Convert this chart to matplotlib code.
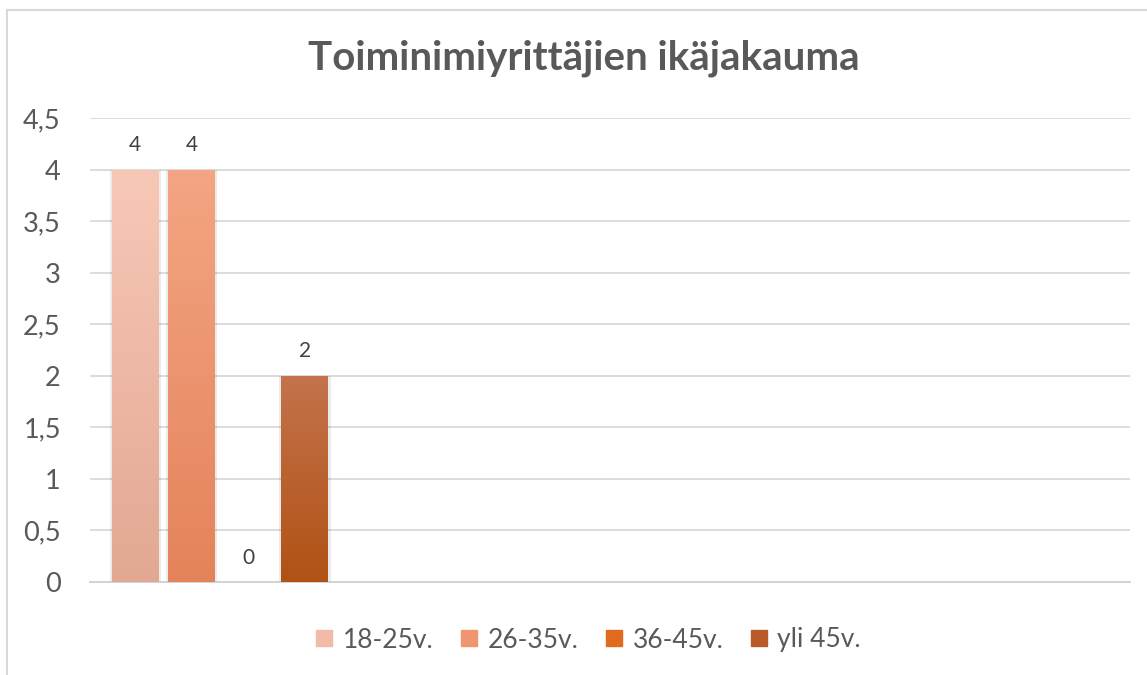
import matplotlib.pyplot as plt
import numpy as np
from matplotlib.colors import LinearSegmentedColormap
from matplotlib.lines import Line2D
from matplotlib.patches import Rectangle

plt.rcParams["font.family"] = ["Lato", "DejaVu Sans"]

title = "Toiminimiyrittäjien ikäjakauma"
series = ["18-25v.", "26-35v.", "36-45v.", "yli 45v."]
values = [4, 4, 0, 2]
yticks = [0, 0.5, 1, 1.5, 2, 2.5, 3, 3.5, 4, 4.5]
ytick_labels = ["0", "0,5", "1", "1,5", "2", "2,5", "3", "3,5", "4", "4,5"]

# top colour, bottom colour for each series gradient
grads = [
    ("#f8c8b7", "#e2a893"),
    ("#f4a583", "#e4835a"),
    ("#ec8a4a", "#d8621c"),
    ("#c4734c", "#b05214"),
]
legend_colors = ["#f1bba7", "#ef9670", "#e06a20", "#b85b28"]

W, H = 1147, 675
fig = plt.figure(figsize=(W / 100, H / 100), dpi=100)
ax = fig.add_axes([90 / W, (H - 582) / H, (1130 - 90) / W, (582 - 118) / H])

bar_w = 0.83
xs = np.arange(len(values))
ax.set_xlim(-0.8, 17.6)
ax.set_ylim(0, 4.5)

grad = np.linspace(0, 1, 256).reshape(-1, 1)
for x, v, (top, bot) in zip(xs, values, grads):
    if v == 0:
        ax.text(x, 0.14, "0", ha="center", va="bottom", fontsize=15, color="#404040")
        continue
    # soft shadow
    ax.add_patch(Rectangle((x - bar_w / 2 - 0.04, -0.01), bar_w + 0.08, v + 0.01,
                           facecolor="#000000", alpha=0.08, lw=0, zorder=2))
    rect = Rectangle((x - bar_w / 2, 0), bar_w, v, facecolor="none", lw=0, zorder=3)
    ax.add_patch(rect)
    cmap = LinearSegmentedColormap.from_list("g", [bot, top])
    im = ax.imshow(grad, cmap=cmap, aspect="auto", origin="lower",
                   extent=(x - bar_w / 2, x + bar_w / 2, 0, v), zorder=3)
    im.set_clip_path(rect)
    ax.text(x, v + 0.14, str(v), ha="center", va="bottom", fontsize=15, color="#404040")

ax.set_yticks(yticks)
ax.set_yticklabels(ytick_labels)
ax.set_xticks([])
ax.tick_params(axis="y", length=0, pad=21, labelsize=19.5, labelcolor="#595959")
ax.grid(axis="y", color="#d9d9d9", lw=1.3, zorder=0)
ax.set_axisbelow(True)
for s in ["top", "right", "left"]:
    ax.spines[s].set_visible(False)
ax.spines["bottom"].set_color("#d0d0d0")
ax.spines["bottom"].set_linewidth(1.3)

fig.text(584 / W, 1 - 58 / H, title, ha="center", va="center", fontsize=29,
         fontweight="bold", color="#595959")

handles = [Line2D([], [], marker="s", ls="none", markersize=12, color=c) for c in legend_colors]
fig.legend(handles, series, loc="center", bbox_to_anchor=(588 / W, 1 - 640 / H),
           ncol=4, frameon=False, fontsize=19, handlelength=0.7, handletextpad=0.35,
           columnspacing=1.0, labelcolor="#595959")

# outer frame (left and top edges visible)
fig.add_artist(Line2D([7 / W, 7 / W], [0, 1 - 10 / H], color="#d9d9d9", lw=1.5))
fig.add_artist(Line2D([7 / W, 1], [1 - 10 / H, 1 - 10 / H], color="#d9d9d9", lw=1.5))

fig.savefig("out.png", dpi=100)
